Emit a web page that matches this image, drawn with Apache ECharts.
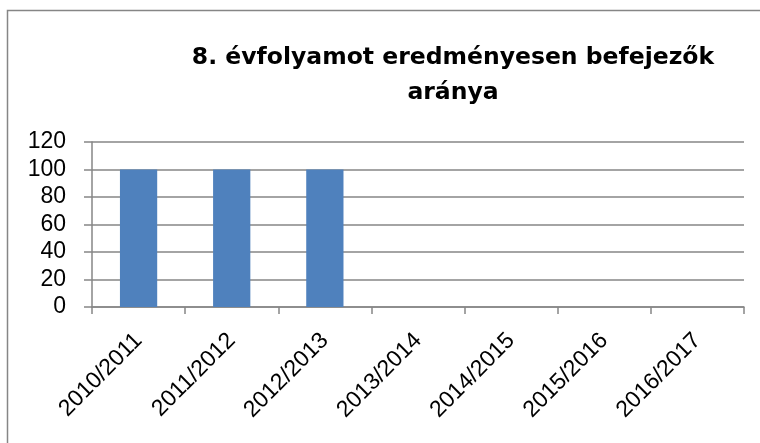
<!DOCTYPE html>
<html><head><meta charset="utf-8">
<script src="https://cdn.jsdelivr.net/npm/echarts@6/dist/echarts.min.js"></script>
<style>html,body{margin:0;padding:0;background:#fff}#c{width:760px;height:443px}</style>
</head><body><div id="c"></div>
<script>
const titleText = '8. évfolyamot eredményesen befejezők\naránya';
const categories = ['2010/2011','2011/2012','2012/2013','2013/2014','2014/2015','2015/2016','2016/2017'];
const values = [100, 100, 100, null, null, null, null];
const yTicks = {min: 0, max: 120, interval: 20};

const chart = echarts.init(document.getElementById('c'), null, {renderer: 'canvas'});
chart.setOption({
  animation: false,
  backgroundColor: '#fff',
  graphic: [{
    type: 'rect', shape: {x: 7.5, y: 10.5, width: 780, height: 480},
    style: {fill: 'none', stroke: '#868686', lineWidth: 1.5}, silent: true
  }],
  title: {
    text: titleText, left: 448, top: 35, textAlign: 'center',
    textStyle: {fontFamily: 'DejaVu Sans', fontWeight: 'bold', fontSize: 23.5, color: '#000', lineHeight: 35}
  },
  grid: {left: 92, right: 16, top: 142, bottom: 136, containLabel: false},
  xAxis: {
    type: 'category', data: categories,
    axisLine: {lineStyle: {color: '#868686', width: 1.5}},
    axisTick: {show: true, length: 7, alignWithLabel: false, lineStyle: {color: '#868686', width: 1.5}},
    axisLabel: {rotate: 45, margin: 30, fontFamily: 'Liberation Sans', fontSize: 23, color: '#000', interval: 0}
  },
  yAxis: {
    type: 'value', min: yTicks.min, max: yTicks.max, interval: yTicks.interval,
    axisLine: {show: true, lineStyle: {color: '#868686', width: 1.5}},
    axisTick: {show: true, length: 8, lineStyle: {color: '#868686', width: 1.5}},
    splitLine: {lineStyle: {color: '#868686', width: 1.5}},
    axisLabel: {margin: 26, fontFamily: 'Liberation Sans', fontSize: 23, color: '#000'}
  },
  series: [{
    type: 'bar', data: values, barWidth: '40%',
    itemStyle: {color: '#4f81bd'}
  }]
});
</script></body></html>
